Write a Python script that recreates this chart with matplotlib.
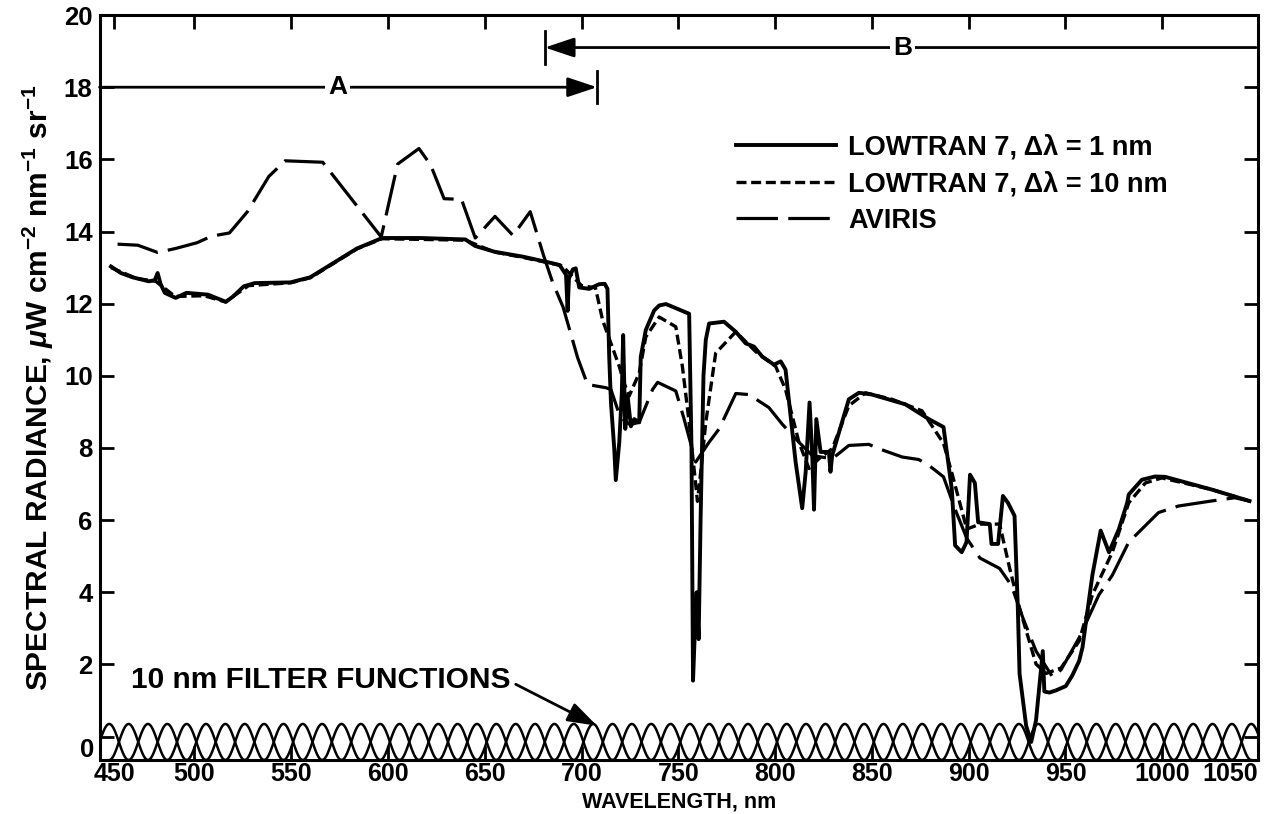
import numpy as np
import matplotlib
matplotlib.use('Agg')
import matplotlib.pyplot as plt

plt.rcParams['font.family'] = ['Liberation Sans', 'DejaVu Sans']
plt.rcParams['font.weight'] = 'bold'
plt.rcParams['mathtext.fontset'] = 'custom'
plt.rcParams['mathtext.rm'] = 'Liberation Sans:bold'
plt.rcParams['mathtext.it'] = 'Liberation Sans:bold:italic'
plt.rcParams['mathtext.bf'] = 'Liberation Sans:bold'
plt.rcParams['mathtext.sf'] = 'Liberation Sans:bold'

# LOWTRAN 7, 1 nm resolution (solid)
lt1_wl = [456.9, 462, 468.1, 476.4, 479.5, 481.0, 482.5, 484.7, 490.3, 495.9, 507.0, 516.3, 520,
          525.5, 531.1, 549.6, 559.8, 584, 597, 617, 640, 645, 655, 670, 685, 688.7,
          692.0, 692.8, 693.5, 695.5, 697.0, 698.8, 704, 709.1, 712, 713.4, 714.3, 715.2, 716.9,
          717.7, 719.5, 720.8, 721.5, 722.6, 723.8, 725.5, 727.2, 729.8, 730.6, 733.2, 737.5,
          740.1, 743.6, 755.6, 756.8, 757.6, 758.6, 759.5, 760.5, 761.5, 763, 764.2, 765.9,
          773.6, 779.7, 784.8, 789.1, 793.4, 799.4, 802.9, 805.4, 808.0, 810.6, 814.0, 815.8,
          817.8, 819.2, 820.1, 821.3, 823.5, 827.8, 828.6, 829.5, 833.0, 838.1, 843.3, 850.1,
          867.3, 879.4, 887.0, 891.3, 893.0, 896.4, 898.9, 900.7, 903.2, 904.9, 910.9, 911.8,
          915.2, 917.7, 920.3, 923.7, 925.4, 926.3, 929.7, 932.3, 934.8, 938.3, 939.1, 941.7,
          945.1, 950.2, 953.6, 957.1, 958.8, 963.9, 968.2, 972.5, 977.6, 981.9, 982.7, 989.5,
          996.4, 1001.5, 1025.4, 1045.1]
lt1_rad = [13.03, 12.85, 12.73, 12.62, 12.65, 12.85, 12.55, 12.3, 12.16, 12.3, 12.25, 12.05, 12.2,
           12.48, 12.57, 12.59, 12.73, 13.53, 13.82, 13.82, 13.78, 13.6, 13.44, 13.3, 13.12, 13.07,
           12.8, 11.8, 12.7, 12.95, 12.98, 12.45, 12.41, 12.54, 12.55, 12.41, 10.53, 9.26, 7.98,
           7.11, 8.16, 9.5, 11.13, 8.53, 9.44, 8.6, 8.8, 8.71, 10.53, 11.27, 11.81,
           11.95, 11.99, 11.72, 8.0, 1.55, 3.0, 4.0, 2.7, 6.0, 10.0, 11.0, 11.45,
           11.5, 11.22, 10.9, 10.81, 10.53, 10.31, 10.4, 10.17, 8.89, 7.61, 6.33, 7.34,
           9.26, 7.79, 6.29, 8.8, 7.89, 7.89, 7.34, 7.79, 8.43, 9.35, 9.53, 9.48,
           9.21, 8.8, 8.58, 6.85, 5.3, 5.11, 5.39, 7.26, 7.03, 5.94, 5.89, 5.34,
           5.34, 6.67, 6.48, 6.12, 3.56, 1.74, 0.3, -0.15, 0.45, 2.37, 1.25, 1.22,
           1.28, 1.4, 1.7, 2.1, 2.47, 4.47, 5.71, 5.11, 5.75, 6.48, 6.71, 7.12,
           7.21, 7.2, 6.85, 6.53]

# LOWTRAN 7, 10 nm resolution (short dashes)
lt10_wl = [456.9, 470, 480, 490, 505, 516, 528, 550, 560, 584, 597, 640, 655, 670, 690, 700,
           707.2, 710.9, 715.2, 719.5, 722, 724.6, 729.8, 733.2, 740.1, 748.7, 752.1, 755.6,
           759.9, 761.6, 764.2, 769.3, 779.7, 790.0, 800.3, 805.4, 812.3, 817.5, 822.6, 829.5,
           838.1, 846.7, 860.4, 875.9, 887.0, 891.3, 897.2, 899.0, 905.8, 916.0, 921.2, 926.3,
           934.8, 940.0, 947.7, 957.1, 963.9, 974.2, 982.7, 991.3, 999.8, 1025.4, 1045.1]
lt10_rad = [13.0, 12.7, 12.62, 12.2, 12.22, 12.05, 12.5, 12.58, 12.72, 13.52, 13.8, 13.76, 13.43,
            13.28, 13.05, 12.5, 12.44, 11.54, 10.9, 10.26, 9.8, 9.44, 10.08, 11.08, 11.63, 11.36,
            10.26, 8.71, 6.52, 7.34, 8.71, 10.63, 11.22, 10.67, 10.26, 9.62, 8.16, 7.43, 7.7,
            7.98, 9.17, 9.53, 9.35, 9.03, 8.13, 7.31, 6.12, 5.75, 5.89, 5.89, 4.66, 3.56,
            2.01, 1.75, 1.9, 2.65, 3.93, 5.11, 6.48, 7.03, 7.17, 6.85, 6.53]

# AVIRIS measurement (long dashes)
av_wl = [460.3, 470.8, 481.0, 490.3, 501.4, 508.8, 518.1, 527.4, 538.5, 546.9, 566.3, 596.5,
         605, 616, 622, 629, 638, 645.1, 655.3, 664.6, 673.5, 680.3, 685.0, 690.5,
         698, 703.1, 712.6, 715.2, 720, 725, 729.8, 736.7, 739.3, 748.7, 753.0, 759.0, 765.9,
         771.1, 779.7, 786.5, 796.8, 803.7, 812.3, 819.2, 829.5, 838.1, 848.4, 853.6, 865.6,
         874.2, 879.4, 887.0, 893, 899, 905.8, 916.0, 922.0, 928.0, 934.8, 943.4, 947.7, 957.1,
         967.3, 974.2, 982.7, 998.1, 1008.3, 1025.4, 1037.4, 1045.1]
av_rad = [13.65, 13.62, 13.42, 13.53, 13.69, 13.87, 13.96, 14.55, 15.53, 15.96, 15.92, 13.85,
          15.87, 16.3, 15.85, 14.91, 14.89, 13.82, 14.42, 13.89, 14.55, 13.35, 12.6, 11.9,
          10.5, 9.76, 9.67, 9.62, 8.85, 8.65, 8.71, 9.62, 9.82, 9.58, 8.8, 7.61, 8.16,
          8.53, 9.51, 9.48, 9.12, 8.66, 8.16, 7.79, 7.7, 8.07, 8.1, 7.98, 7.75,
          7.68, 7.52, 7.2, 6.3, 5.5, 4.95, 4.66, 4.2, 3.29, 2.37, 1.65, 1.85, 2.74,
          3.93, 4.47, 5.39, 6.21, 6.39, 6.53, 6.62, 6.53]

# 10 nm filter functions, drawn along the bottom of the frame
filter_centers = np.arange(456, 1050, 10)
filter_halfwidth = 10.0
filter_base = -0.65

x_ticks = [458.5, 500, 550, 600, 650, 700, 750, 800, 850, 900, 950, 1000, 1049.5]
x_labels = ['450', '500', '550', '600', '650', '700', '750', '800', '850', '900', '950', '1000', '1050']
y_ticks = list(range(0, 21, 2))

fig = plt.figure(figsize=(12.65, 8.14), dpi=100)
ax = fig.add_axes([0.0787, 0.0663, 0.9158, 0.9152])

for c in filter_centers:
    xf = np.linspace(c - filter_halfwidth, c + filter_halfwidth, 61)
    yf = filter_base + np.cos(np.pi * (xf - c) / (2 * filter_halfwidth)) ** 2
    ax.plot(xf, yf, color='black', lw=1.8)

ax.plot(lt1_wl, lt1_rad, color='black', lw=2.8, solid_joinstyle='round',
        label='LOWTRAN 7, \u0394\u03bb = 1 nm')
ax.plot(lt10_wl, lt10_rad, color='black', lw=2.4, dashes=(3.0, 1.4),
        label='LOWTRAN 7, \u0394\u03bb = 10 nm')
ax.plot(av_wl, av_rad, color='black', lw=2.3, dashes=(13, 3.2), label='AVIRIS')

ax.set_xlim(451, 1048.5)
ax.set_ylim(filter_base, 20)
ax.set_xticks(x_ticks)
ax.set_xticklabels(x_labels)
ax.set_yticks(y_ticks)
ax.set_yticklabels([''] + [str(v) for v in y_ticks[1:]])
xt = ax.xaxis.get_major_ticks()
for t in (xt[0], xt[-1]):
    t.tick1line.set_visible(False)
    t.tick2line.set_visible(False)
xt[-1].label1.set_horizontalalignment('right')

ax.tick_params(direction='in', top=True, right=True, length=10, width=2, labelsize=18.5)
ax.tick_params(axis='x', labelsize=18, pad=1.5)
ax.tick_params(axis='y', pad=5)
for s in ax.spines.values():
    s.set_linewidth(2.2)

# the "0" label sits a little lower than its tick in the reference
ax.annotate('0', xy=(0, 0), xycoords=('axes fraction', 'data'), xytext=(-4, -10),
            textcoords='offset points', ha='right', va='center', fontsize=18.5, fontweight='bold')

ax.set_xlabel('WAVELENGTH, nm', fontsize=15.5, fontweight='bold')
ax.xaxis.set_label_coords(0.5, -0.0711)
ax.xaxis.label.set_va('bottom')
ax.set_ylabel(r'SPECTRAL RADIANCE, $\mu$W cm$^{-2}$ nm$^{-1}$ sr$^{-1}$', fontsize=21.5,
              fontweight='bold', labelpad=6)

# range markers A and B
arrow_kw = dict(arrowstyle='-|>,head_length=0.9,head_width=0.3', color='black', lw=2,
                shrinkA=0, shrinkB=0, mutation_scale=20)
ax.annotate('', xy=(708, 18), xytext=(451, 18), arrowprops=arrow_kw)
ax.plot([708, 708], [17.55, 18.45], color='black', lw=2)
ax.text(574, 18, 'A', ha='center', va='center', fontsize=19, fontweight='bold',
        bbox=dict(facecolor='white', edgecolor='none', pad=2))
ax.annotate('', xy=(681, 19.1), xytext=(1048.5, 19.1), arrowprops=arrow_kw)
ax.plot([681, 681], [18.65, 19.55], color='black', lw=2)
ax.text(866, 19.1, 'B', ha='center', va='center', fontsize=19, fontweight='bold',
        bbox=dict(facecolor='white', edgecolor='none', pad=2))

ax.text(467, 1.56, '10 nm FILTER FUNCTIONS', ha='left', va='center', fontsize=21.5, fontweight='bold')
ax.annotate('', xy=(708, 0.3), xytext=(666, 1.45),
            arrowprops=dict(arrowstyle='-|>,head_length=0.9,head_width=0.3', color='black', lw=2,
                            shrinkA=0, shrinkB=0, mutation_scale=20))

leg = ax.legend(loc='upper left', bbox_to_anchor=((779 - 451) / 597.5, 0.84), frameon=False,
                fontsize=19.5, handlelength=3.7, handletextpad=0.45, labelspacing=0.4,
                borderpad=0, borderaxespad=0)
for t in leg.get_texts():
    t.set_fontweight('bold')

fig.savefig('out.png', dpi=100)
